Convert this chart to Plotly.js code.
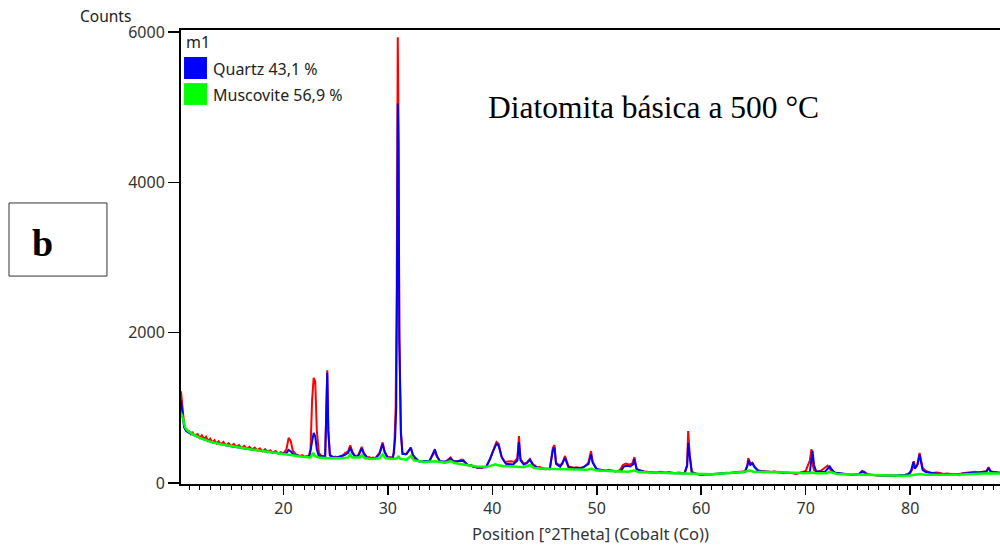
<!DOCTYPE html>
<html>
<head>
<meta charset="utf-8">
<script src="https://cdn.plot.ly/plotly-3.0.1.min.js"></script>
<style>html,body{margin:0;padding:0;background:#fff;}#chart{width:1000px;height:546px;}</style>
</head>
<body>
<div id="chart"></div>
<script>
// Observed pattern (red)
const obsX = [10.2,10.25,10.3,10.35,10.4,10.45,10.5,10.6,10.7,10.85,11.0,11.15,11.3,11.45,11.6,11.8,12.0,12.2,12.4,12.6,12.8,13.0,13.2,13.4,13.6,13.8,14.0,14.25,14.5,14.75,15.0,15.25,15.5,15.75,16.0,16.25,16.5,16.75,17.0,17.25,17.5,17.75,18.0,18.25,18.5,18.75,19.0,19.25,19.5,19.75,20.0,20.3,20.5,20.7,20.9,21.2,21.4,21.6,21.8,22.0,22.2,22.4,22.6,22.75,22.9,23.05,23.2,23.4,23.7,24.0,24.1,24.2,24.3,24.45,24.8,25.0,25.2,25.4,25.6,25.9,26.2,26.4,26.6,26.9,27.2,27.5,27.7,28.0,28.2,28.4,28.6,28.8,29.2,29.5,29.7,30.0,30.2,30.4,30.6,30.75,30.85,30.95,31.02,31.1,31.25,31.4,31.7,32.0,32.2,32.4,32.7,33.0,33.3,33.6,34.0,34.3,34.5,34.7,35.0,35.4,35.7,36.0,36.2,36.6,37.0,37.2,37.5,37.8,38.0,38.2,38.4,38.6,38.8,39.0,39.2,39.4,39.8,40.1,40.4,40.6,40.9,41.2,41.5,41.8,42.1,42.4,42.55,42.7,43.0,43.3,43.6,43.9,44.1,44.3,44.5,44.7,44.9,45.1,45.3,45.5,45.8,45.95,46.1,46.4,46.7,46.95,47.1,47.3,47.6,47.8,48.1,48.3,48.6,48.8,49.2,49.45,49.6,49.9,50.1,50.3,50.6,50.8,51.1,51.3,51.6,51.8,52.0,52.2,52.5,52.8,53.1,53.4,53.6,53.8,54.0,54.2,54.5,54.8,55.1,55.4,55.7,56.0,56.3,56.6,56.9,57.2,57.5,57.8,58.1,58.4,58.65,58.75,58.9,59.1,59.5,60.0,60.3,60.6,60.9,61.2,61.5,61.8,62.1,62.4,62.7,63.0,63.3,63.6,63.9,64.2,64.4,64.5,64.7,64.9,65.1,65.4,65.8,66.1,66.4,66.7,67.0,67.3,67.6,67.9,68.2,68.5,68.8,69.1,69.4,69.7,70.0,70.4,70.55,70.65,70.8,71.0,71.4,71.8,72.1,72.3,72.5,72.8,73.1,73.3,73.6,73.9,74.2,74.5,74.8,75.1,75.4,75.6,75.9,76.2,76.5,76.8,77.1,77.4,77.7,78.0,78.3,78.6,78.9,79.2,79.5,80.0,80.2,80.35,80.5,80.7,80.9,81.05,81.2,81.5,81.8,82.0,82.3,82.6,82.9,83.2,83.5,83.8,84.1,84.4,84.7,85.0,85.3,85.6,85.9,86.2,86.6,87.0,87.3,87.5,87.7,88.0,88.2,88.5,88.8];
const obsY = [1220,1150,1100,950,900,800,780,720,700,690,690,650,680,635,640,650,600,635,585,615,560,590,540,570,525,555,515,545,500,530,490,520,480,505,465,495,455,480,445,470,435,460,420,450,410,435,400,425,395,410,390,450,600,560,430,380,370,360,370,350,355,345,450,1100,1400,1350,700,400,350,360,900,1500,700,380,340,350,335,345,345,400,420,500,420,350,380,480,400,340,345,330,340,330,400,540,420,340,345,330,400,1000,2550,5930,4870,2000,700,400,380,430,470,380,300,290,285,280,300,380,420,350,290,270,300,340,300,280,310,310,260,230,240,210,215,200,205,200,215,210,330,450,545,520,350,280,290,290,280,330,625,320,260,270,320,250,230,200,215,200,190,180,190,185,470,505,270,240,250,360,300,220,210,200,210,200,205,215,270,425,290,200,175,165,170,160,175,175,165,150,160,170,240,260,245,260,345,200,170,160,155,150,140,140,130,150,140,140,145,135,130,140,130,130,240,690,380,150,120,110,115,120,110,115,125,130,125,135,130,140,145,150,150,160,230,330,260,270,220,170,160,150,150,145,155,145,140,130,135,135,130,120,135,140,160,300,450,250,170,150,160,200,230,190,150,140,130,125,120,115,120,110,115,120,160,150,120,110,110,100,100,95,105,100,95,90,100,105,110,130,180,290,200,250,400,300,200,160,140,130,135,140,130,120,125,120,110,110,105,130,135,140,145,150,140,150,160,210,160,145,140,135,140];

// Quartz phase profile (blue)
const quartzX = [10.2,10.3,10.4,10.5,10.7,11.0,11.5,12.0,13.0,14.0,15.0,16.0,17.0,18.0,19.0,20.0,20.3,20.5,20.7,21.0,22.0,22.5,22.75,22.9,23.05,23.2,23.4,24.0,24.1,24.2,24.3,24.45,25.0,25.9,26.2,26.4,26.6,26.9,27.2,27.5,27.7,28.0,28.8,29.2,29.5,29.7,30.0,30.5,30.7,30.8,30.87,30.95,31.02,31.1,31.25,31.4,31.8,32.2,32.4,33.0,34.0,34.3,34.5,34.7,35.0,35.7,36.0,36.3,37.0,37.2,37.6,38.5,39.4,39.8,40.1,40.4,40.6,40.9,41.3,42.0,42.4,42.55,42.7,43.0,43.3,43.6,43.9,44.5,45.5,45.8,45.95,46.1,46.5,46.95,47.1,47.3,48.5,49.2,49.45,49.6,50.0,51.0,52.3,52.6,52.9,53.2,53.5,53.6,53.8,54.5,56.0,58.4,58.65,58.75,58.9,59.1,60.0,62.0,64.2,64.4,64.55,64.7,64.9,65.1,65.5,67.0,69.0,70.4,70.55,70.65,70.8,71.0,71.8,72.1,72.3,72.5,72.8,74.5,75.1,75.4,75.6,75.9,78.0,79.8,80.1,80.3,80.45,80.7,80.9,81.05,81.2,81.5,82.5,84.0,85.0,86.0,86.6,87.3,87.5,87.7,88.8];
const quartzY = [1100,1000,850,740,690,665,635,600,550,515,490,465,445,425,405,385,400,440,420,375,345,355,550,665,620,450,355,355,900,1470,700,365,335,375,400,470,400,345,365,460,390,335,325,385,520,405,335,335,600,1000,2400,5050,4500,1900,650,385,385,470,365,285,295,400,450,360,285,285,330,285,295,295,245,205,210,320,430,520,500,340,255,245,300,545,300,245,265,310,235,195,185,440,470,255,215,330,280,205,195,250,380,270,185,160,155,220,230,220,250,320,185,150,135,125,230,530,350,135,110,125,145,220,300,240,260,210,155,145,130,145,280,430,240,155,145,190,220,180,135,110,115,150,140,110,98,108,170,280,190,240,380,270,170,145,125,112,122,135,135,150,200,150,135];

// Muscovite phase profile (green)
const muscX = [10.2,10.3,10.45,10.6,10.8,11.2,12.0,13.0,14.0,15.0,16.0,17.0,18.0,19.0,20.0,21.0,22.0,22.6,22.85,23.0,23.5,24.5,25.5,26.2,26.4,26.6,27.3,27.5,27.8,28.5,29.2,29.5,29.8,30.5,30.9,31.0,31.2,31.8,32.2,32.5,33.5,34.5,35.5,36.0,36.4,37.5,38.5,39.5,40.3,40.6,41.0,42.0,43.0,43.6,44.0,45.0,46.0,47.0,48.0,49.0,49.5,50.0,51.0,52.0,53.0,53.6,54.0,55.0,56.0,57.0,58.0,59.0,60.0,61.0,62.0,63.0,64.0,64.6,65.0,66.0,67.0,68.0,69.0,70.0,70.6,71.0,72.0,72.3,73.0,74.0,75.0,76.0,77.0,78.0,79.0,80.0,80.9,81.5,82.5,83.5,84.5,85.5,86.5,87.5,88.8];
const muscY = [930,900,820,740,700,660,600,550,515,490,465,445,425,405,385,360,345,340,400,360,335,330,330,340,380,340,340,370,330,320,330,380,330,320,330,360,320,310,360,300,280,290,270,290,265,240,220,215,250,235,225,220,210,240,200,190,190,185,180,175,190,165,160,155,150,165,145,140,135,130,125,120,115,115,125,135,145,165,150,145,145,140,135,130,140,130,130,150,120,115,110,105,100,95,95,100,120,110,115,110,110,120,125,130,125];

const xTickVals = [20,30,40,50,60,70,80];
const yTickVals = [0,2000,4000,6000];
const legendLabels = ['Quartz 43,1 %','Muscovite 56,9 %'];
const legendColors = ['#0000ff','#00ff00'];

const uiFont = 'Noto Sans, DejaVu Sans, sans-serif';

const traces = [
  {x: obsX, y: obsY, type: 'scatter', mode: 'lines', line: {color: '#ff0000', width: 2}, hoverinfo: 'skip', showlegend: false},
  {x: quartzX, y: quartzY, type: 'scatter', mode: 'lines', line: {color: '#0000ff', width: 2}, hoverinfo: 'skip', showlegend: false},
  {x: muscX, y: muscY, type: 'scatter', mode: 'lines', line: {color: '#00ff00', width: 2.5}, hoverinfo: 'skip', showlegend: false}
];

const shapes = [
  {type: 'rect', xref: 'paper', yref: 'paper', x0: -0.210, x1: -0.0904, y0: 0.458, y1: 0.619, line: {color: '#333', width: 1}},
  {type: 'rect', xref: 'paper', yref: 'paper', x0: 0.0037, x1: 0.0317, y0: 0.892, y1: 0.9405, line: {width: 0}, fillcolor: legendColors[0]},
  {type: 'rect', xref: 'paper', yref: 'paper', x0: 0.0037, x1: 0.0317, y0: 0.835, y1: 0.883, line: {width: 0}, fillcolor: legendColors[1]}
];

const annotations = [
  {text: 'Counts', xref: 'paper', yref: 'paper', x: -0.0916, y: 1.0308, showarrow: false, font: {family: uiFont, size: 15.5, color: '#222'}, xanchor: 'center', yanchor: 'middle'},
  {text: 'm1', xref: 'paper', yref: 'paper', x: 0.004, y: 0.9736, showarrow: false, font: {family: uiFont, size: 16, color: '#222'}, xanchor: 'left', yanchor: 'middle'},
  {text: legendLabels[0], xref: 'paper', yref: 'paper', x: 0.0365, y: 0.914, showarrow: false, font: {family: uiFont, size: 16, color: '#222'}, xanchor: 'left', yanchor: 'middle'},
  {text: legendLabels[1], xref: 'paper', yref: 'paper', x: 0.0365, y: 0.857, showarrow: false, font: {family: uiFont, size: 16, color: '#222'}, xanchor: 'left', yanchor: 'middle'},
  {text: 'Diatomita básica a 500 °C', xref: 'paper', yref: 'paper', x: 0.5775, y: 0.830, showarrow: false, font: {family: 'Liberation Serif, Times New Roman, serif', size: 31.5, color: '#000'}, xanchor: 'center', yanchor: 'middle'},
  {text: '<b>b</b>', xref: 'paper', yref: 'paper', x: -0.169, y: 0.531, showarrow: false, font: {family: 'Liberation Serif, Times New Roman, serif', size: 38, color: '#000'}, xanchor: 'center', yanchor: 'middle'}
];

const layout = {
  width: 1000, height: 546,
  margin: {l: 181, r: 0, t: 30, b: 62, pad: 0},
  paper_bgcolor: '#fff', plot_bgcolor: '#fff',
  showlegend: false,
  xaxis: {
    range: [10.2, 88.6], tickvals: xTickVals, ticks: 'outside', ticklen: 9, tickwidth: 1.5, tickcolor: '#000',
    minor: {dtick: 1, tick0: 0, ticks: 'outside', ticklen: 4, tickwidth: 1, tickcolor: '#000', showgrid: false},
    showline: true, linecolor: '#000', linewidth: 2, mirror: true, showgrid: false, zeroline: false,
    tickfont: {family: uiFont, size: 16, color: '#333'},
    title: {text: 'Position [°2Theta] (Cobalt (Co))', font: {family: uiFont, size: 16.5, color: '#333'}, standoff: 10}
  },
  yaxis: {
    range: [-13.3, 6026.7], tickvals: yTickVals, ticks: 'outside', ticklen: 11, tickwidth: 1.5, tickcolor: '#000',
    showline: true, linecolor: '#000', linewidth: 2, showgrid: false, zeroline: false,
    tickfont: {family: uiFont, size: 16, color: '#333'}
  },
  shapes: shapes,
  annotations: annotations
};

Plotly.newPlot('chart', traces, layout, {displayModeBar: false, staticPlot: true});
</script>
</body>
</html>
